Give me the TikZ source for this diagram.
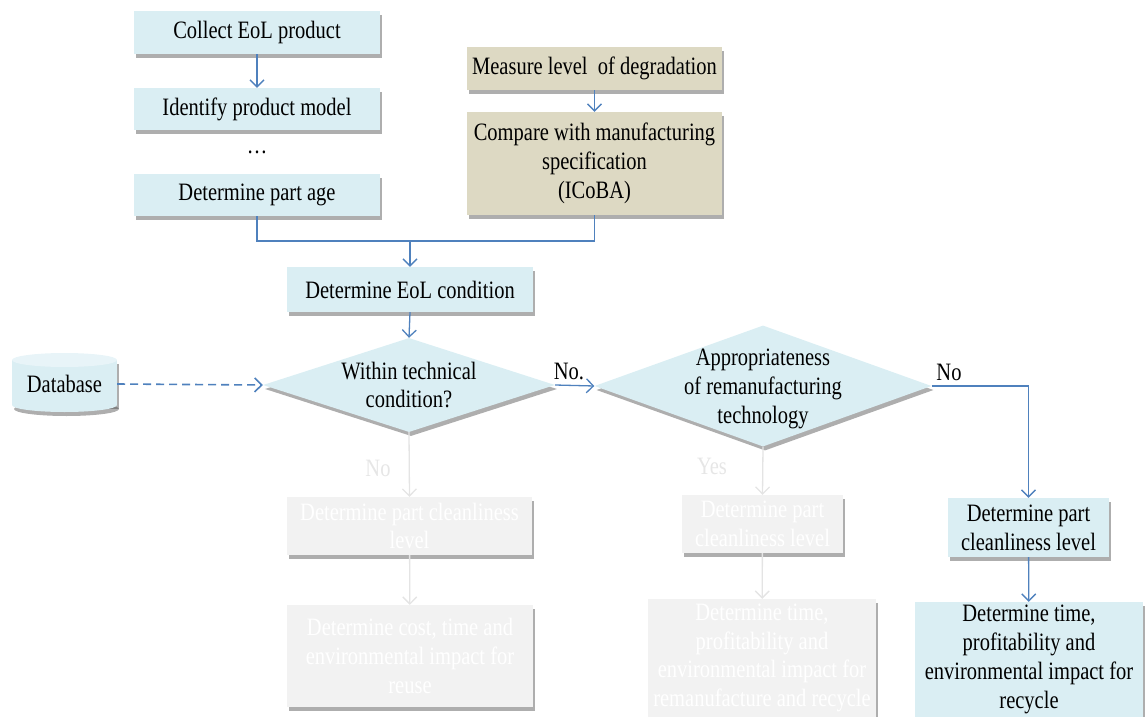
\documentclass[tikz,border=0pt]{standalone}
\usepackage{fontspec}
\setmainfont{Liberation Serif}[FakeStretch=0.82]
\usetikzlibrary{arrows.meta,shapes.geometric,shadows,backgrounds}

\definecolor{boxblue}{HTML}{DAEEF3}
\definecolor{boxtan}{HTML}{DDD9C3}
\definecolor{dbtop}{HTML}{E8F4F8}
\definecolor{linkblue}{HTML}{4F81BD}
\definecolor{fadefill}{HTML}{F2F2F2}
\definecolor{fadeline}{HTML}{E4E4E4}
\definecolor{fadelabel}{HTML}{E6E6E6}

\tikzset{
  shade/.style={drop shadow={shadow xshift=2pt, shadow yshift=-4pt, opacity=0.45, fill=black!70}},
  base/.style={inner sep=0pt, align=center, font=\fontsize{25}{28.8}\selectfont, shade},
  bluebox/.style={base, rectangle, fill=boxblue},
  tanbox/.style={base, rectangle, fill=boxtan},
  fadebox/.style={base, rectangle, fill=fadefill, text=white},
  decision/.style={base, diamond, fill=boxblue},
  txt/.style={inner sep=0pt, align=center, font=\fontsize{25}{28.8}\selectfont},
  link/.style={draw=linkblue, line width=1.3pt, -{Straight Barb[length=7pt,width=14pt]}},
  plain/.style={draw=linkblue, line width=1.3pt},
  fadelink/.style={draw=fadeline, line width=1.3pt, -{Straight Barb[length=7pt,width=14pt]}},
  dashlink/.style={link, line width=1.6pt, dash pattern=on 8pt off 5pt},
}

\begin{document}
\begin{tikzpicture}[x=1pt,y=-1pt]
\useasboundingbox (0,0) rectangle (1146,717);

% left column of preparation steps
\node[bluebox, minimum width=246, minimum height=43] (collect) at (257,32.5) {Collect EoL product};
\node[bluebox, minimum width=246, minimum height=42] (identify) at (257,109) {Identify product model};
\node[txt] (dots) at (257,152) {\dots};
\node[bluebox, minimum width=246, minimum height=42] (age) at (257,195) {Determine part age};

% degradation assessment
\node[tanbox, minimum width=255, minimum height=43] (measure) at (594.5,68.5) {Measure level \ of degradation};
\node[tanbox, minimum width=255, minimum height=103] (compare) at (594.5,163.5) {Compare with manufacturing\\specification\\(ICoBA)};

% EoL condition and decisions
\node[bluebox, minimum width=246, minimum height=45] (eol) at (410,289.5) {Determine EoL condition};
\node[decision, minimum width=292, minimum height=94] (tech) at (409,385) {};
\node[txt] (techtxt) at (tech) {Within technical\\condition?};
\node[decision, minimum width=337, minimum height=121] (remf) at (763,386) {};
\node[txt] (remftxt) at (763,389) {Appropriateness\\of remanufacturing\\technology};

% database cylinder
\fill[black!70, opacity=0.45] (66.5,364) rectangle (119,409);
\fill[black!70, opacity=0.45] (66.5,409) ellipse [x radius=52.5pt, y radius=7pt];
\fill[boxblue] (12,360) rectangle (117,405);
\fill[boxblue] (64.5,405) ellipse [x radius=52.5pt, y radius=7pt];
\fill[dbtop] (64.5,360) ellipse [x radius=52.5pt, y radius=7pt];
\node[txt, minimum width=105, minimum height=59] (db) at (64.5,384) {Database};

% faded branches
\node[fadebox, minimum width=245, minimum height=58] (clean1) at (409.5,526) {Determine part cleanliness\\level};
\node[fadebox, minimum width=246, minimum height=102] (cost1) at (410,656) {Determine cost, time and\\environmental impact for\\reuse};
\node[fadebox, minimum width=161, minimum height=58] (clean2) at (762.5,524) {Determine part\\cleanliness level};
\node[fadebox, minimum width=228, minimum height=118] (cost2) at (762,658) {Determine time,\\profitability and\\environmental impact for\\remanufacture and recycle};

% recycle branch
\node[bluebox, minimum width=161, minimum height=59] (clean3) at (1028.5,527.5) {Determine part\\cleanliness level};
\node[bluebox, minimum width=228, minimum height=115] (cost3) at (1029,659.5) {Determine time,\\profitability and\\environmental impact for\\recycle};

% connectors
\coordinate (merge) at (410,241);
\draw[link] (collect) -- (identify);
\draw[link] (measure) -- (compare);
\draw[plain] (age.south) |- (merge);
\draw[plain] (compare.south) |- (merge);
\draw[link] (merge) -- (eol.north);
\draw[link] (eol.south) -- (tech.north);
\draw[dashlink] (db.east) -- (tech.west);
\draw[link] (tech.east) -- (remf.west);
\draw[link] (remf.east) -| (clean3.north);
\draw[link] (clean3) -- (cost3);
\draw[fadelink] (tech.south) -- (clean1.north);
\draw[fadelink] (clean1) -- (cost1);
\draw[fadelink] (remf.south) -- (clean2.north);
\draw[fadelink] (clean2) -- (cost2);

% branch labels
\node[txt] (lno1) at (569,371) {No.};
\node[txt] (lno2) at (949,372) {No};
\node[txt, text=fadelabel] (lno3) at (378,468) {No};
\node[txt, text=fadelabel] (lyes) at (712,466) {Yes};
\end{tikzpicture}
\end{document}
